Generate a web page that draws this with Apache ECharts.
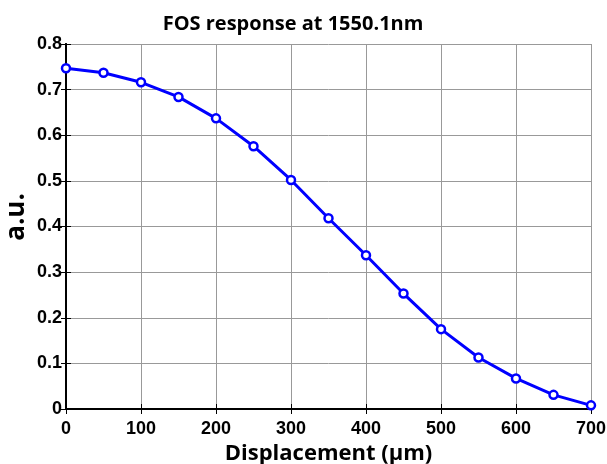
<!DOCTYPE html>
<html lang="en">
<head>
    <meta charset="UTF-8">
    <title>FOS response</title>
    <script src="https://cdn.jsdelivr.net/npm/echarts@6/dist/echarts.min.js"></script>
</head>
<body style="margin:0;background:#fff;">
    <div id="main" style="width: 607px; height: 464px;"></div>
    <script>
        // displacement in um, response in a.u.
        const displacement = [0, 50, 100, 150, 200, 250, 300, 350, 400, 450, 500, 550, 600, 650, 700];
        const response = [0.747, 0.737, 0.716, 0.684, 0.637, 0.576, 0.502, 0.418, 0.337, 0.253, 0.175, 0.113, 0.067, 0.031, 0.008];
        const yTicks = ['0', '0.1', '0.2', '0.3', '0.4', '0.5', '0.6', '0.7', '0.8'];

        const points = displacement.map((d, i) => [d, response[i]]);
        const chart = echarts.init(document.getElementById('main'));

        const tickFont = {
            color: '#000',
            fontFamily: 'Liberation Sans Narrow, Liberation Sans, sans-serif',
            fontWeight: 'bold',
            fontSize: 18
        };
        const boxSide = {
            axisLine: { lineStyle: { color: '#000', width: 2 } },
            axisTick: { inside: true, length: 5, lineStyle: { color: '#000', width: 1 } },
            axisLabel: { show: false },
            splitLine: { show: false }
        };

        chart.setOption({
            animation: false,
            title: {
                text: 'FOS response at 1550.1nm',
                left: 288,
                textAlign: 'center',
                top: 9,
                textStyle: { fontFamily: 'Open Sans', fontWeight: 'bold', fontSize: 20, color: '#000' }
            },
            // y axis title placed by hand, the axis name kept getting pushed left
            graphic: [{
                type: 'text',
                x: 17, y: 217,
                rotation: Math.PI / 2,
                style: {
                    text: 'a.u.',
                    fill: '#000',
                    font: 'bold 26px "Open Sans"',
                    align: 'center',
                    verticalAlign: 'middle'
                }
            }],
            grid: { left: 66, right: 16, top: 44, bottom: 55, outerBoundsMode: 'none', containLabel: false },
            xAxis: [{
                type: 'value', min: 0, max: 700, interval: 100,
                name: 'Displacement (μm)', nameLocation: 'middle', nameGap: 28,
                nameTextStyle: { fontFamily: 'Open Sans', fontWeight: 'bold', fontSize: 22, color: '#000' },
                axisLine: { onZero: false, lineStyle: { color: '#000', width: 2 } },
                axisTick: { inside: true, length: 5, lineStyle: { color: '#000' } },
                axisLabel: Object.assign({ margin: 11 }, tickFont),
                splitLine: { lineStyle: { color: '#999', width: 1 } }
            }, Object.assign({
                type: 'value', min: 0, max: 700, interval: 100, position: 'top'
            }, boxSide)],
            yAxis: [{
                type: 'value', min: 0, max: 0.8, interval: 0.1,
                axisLine: { onZero: false, lineStyle: { color: '#000', width: 2 } },
                axisTick: { inside: true, length: 5, lineStyle: { color: '#000' } },
                axisLabel: Object.assign({
                    margin: 4,
                    formatter: v => yTicks[Math.round(v * 10)]
                }, tickFont),
                splitLine: { lineStyle: { color: '#999', width: 1 } }
            }, Object.assign({
                type: 'value', min: 0, max: 0.8, interval: 0.1, position: 'right'
            }, boxSide)],
            series: [{
                type: 'line',
                data: points,
                symbol: 'circle',
                symbolSize: 8,
                lineStyle: { color: '#0000ff', width: 3 },
                itemStyle: { color: '#fff', borderColor: '#0000ff', borderWidth: 2.5 }
            }]
        });
    </script>
</body>
</html>
